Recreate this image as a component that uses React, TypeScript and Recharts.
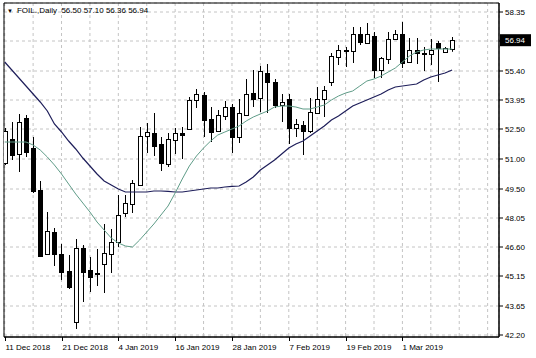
import { ComposedChart, Bar, Line, XAxis, YAxis, CartesianGrid, ReferenceLine, ReferenceArea } from 'recharts'

// daily bars, 11 Dec 2018 .. 12 Mar 2019
const dates = [
  '11 Dec 2018', '12 Dec 2018', '13 Dec 2018', '14 Dec 2018', '17 Dec 2018', '18 Dec 2018', '19 Dec 2018', '20 Dec 2018',
  '21 Dec 2018', '24 Dec 2018', '26 Dec 2018', '27 Dec 2018', '28 Dec 2018', '31 Dec 2018', '2 Jan 2019', '3 Jan 2019',
  '4 Jan 2019', '7 Jan 2019', '8 Jan 2019', '9 Jan 2019', '10 Jan 2019', '11 Jan 2019', '14 Jan 2019', '15 Jan 2019',
  '16 Jan 2019', '17 Jan 2019', '18 Jan 2019', '21 Jan 2019', '22 Jan 2019', '23 Jan 2019', '24 Jan 2019', '25 Jan 2019',
  '28 Jan 2019', '29 Jan 2019', '30 Jan 2019', '31 Jan 2019', '1 Feb 2019', '4 Feb 2019', '5 Feb 2019', '6 Feb 2019',
  '7 Feb 2019', '8 Feb 2019', '11 Feb 2019', '12 Feb 2019', '13 Feb 2019', '14 Feb 2019', '15 Feb 2019', '18 Feb 2019',
  '19 Feb 2019', '20 Feb 2019', '21 Feb 2019', '22 Feb 2019', '25 Feb 2019', '26 Feb 2019', '27 Feb 2019', '28 Feb 2019',
  '1 Mar 2019', '4 Mar 2019', '5 Mar 2019', '6 Mar 2019', '7 Mar 2019', '8 Mar 2019', '11 Mar 2019', '12 Mar 2019',
]

const opens = [
  50.8, 52.0, 51.25, 53.05, 51.55, 49.45, 46.25, 47.35, 46.25, 45.4, 42.85, 46.55, 45.45, 45.3, 45.75, 46.25,
  46.85, 48.3, 48.75, 49.7, 52.15, 52.3, 51.75, 50.75, 51.95, 52.3, 52.5, 53.95, 54.2, 53.0, 52.4, 53.15,
  53.6, 52.1, 53.2, 54.3, 54.05, 55.3, 54.85, 53.7, 54.0, 52.55, 52.7, 52.4, 53.3, 54.0, 54.85, 56.1,
  56.45, 56.4, 57.25, 56.8, 57.15, 55.45, 56.0, 57.0, 57.25, 55.85, 56.45, 56.3, 56.25, 56.8, 56.35, 56.5,
]
const highs = [
  52.55, 52.85, 53.25, 53.2, 52.1, 49.9, 48.35, 47.55, 46.75, 46.2, 47.0, 46.7, 46.1, 46.5, 47.75, 47.5,
  49.2, 49.2, 49.95, 52.6, 52.8, 53.3, 52.1, 52.3, 52.55, 52.6, 54.1, 54.5, 54.35, 53.6, 53.45, 53.9,
  53.75, 54.0, 55.0, 55.45, 55.65, 55.75, 55.0, 54.25, 54.25, 53.0, 52.9, 54.05, 54.6, 54.65, 56.3, 56.7,
  56.6, 57.6, 57.6, 57.8, 57.35, 56.1, 57.35, 57.45, 57.85, 57.05, 57.05, 56.6, 57.0, 56.9, 56.6, 57.1,
]
const lows = [
  50.7, 50.95, 50.35, 51.1, 49.3, 46.1, 46.2, 45.65, 44.95, 44.5, 42.5, 43.85, 44.35, 44.65, 44.3, 45.3,
  46.6, 48.1, 48.3, 49.65, 51.3, 51.15, 50.4, 50.6, 51.25, 51.0, 52.45, 53.55, 52.1, 51.85, 52.35, 52.95,
  51.3, 51.8, 53.2, 53.6, 53.35, 53.3, 53.55, 52.85, 51.75, 52.1, 51.2, 52.3, 53.3, 53.1, 54.65, 55.7,
  55.6, 55.8, 56.7, 56.8, 55.05, 55.05, 55.75, 56.95, 55.55, 55.8, 55.75, 55.4, 55.7, 54.85, 56.3, 56.36,
]
const closes = [
  52.4, 51.2, 52.85, 51.35, 49.4, 46.15, 47.4, 46.25, 45.35, 44.6, 46.55, 45.35, 45.1, 45.25, 46.3, 46.85,
  48.2, 48.8, 49.8, 52.15, 52.35, 51.65, 50.8, 52.0, 52.3, 52.2, 53.95, 54.25, 52.95, 52.35, 53.2, 53.6,
  52.1, 53.3, 54.25, 54.0, 55.4, 54.85, 53.7, 53.85, 52.55, 52.75, 52.4, 53.35, 54.0, 54.45, 56.15, 56.45,
  56.4, 57.25, 56.85, 57.25, 55.45, 56.05, 57.0, 57.25, 55.8, 56.45, 56.3, 56.25, 56.45, 56.55, 56.55, 56.94,
]

// moving averages as drawn (green = fast, navy = slow)
const fastMa = [
  51.85, 51.85, 51.85, 51.85, 51.7, 51.45, 51.1, 50.7, 50.25, 49.75, 49.25, 48.8, 48.35, 47.85, 47.45, 47.05,
  46.8, 46.65, 46.6, 46.95, 47.35, 47.75, 48.2, 48.65, 49.3, 50.0, 50.65, 51.15, 51.55, 51.9, 52.2, 52.35,
  52.5, 52.65, 52.9, 53.1, 53.25, 53.4, 53.6, 53.65, 53.65, 53.6, 53.5, 53.5, 53.6, 53.7, 53.95, 54.15,
  54.3, 54.4, 54.65, 54.9, 55.0, 55.15, 55.35, 55.55, 55.85, 56.15, 56.35, 56.45, 56.5, 56.5, 56.5, 56.5,
]
const slowMa = [
  55.85, 55.45, 55.05, 54.65, 54.25, 53.85, 53.4, 52.75, 52.35, 51.9, 51.5, 51.05, 50.65, 50.25, 49.9, 49.7,
  49.5, 49.35, 49.35, 49.35, 49.35, 49.4, 49.4, 49.38, 49.35, 49.35, 49.4, 49.45, 49.5, 49.55, 49.55, 49.6,
  49.63, 49.65, 49.85, 50.1, 50.45, 50.7, 50.95, 51.25, 51.55, 51.75, 51.9, 52.15, 52.4, 52.65, 52.95, 53.15,
  53.4, 53.65, 53.8, 53.95, 54.1, 54.25, 54.45, 54.6, 54.65, 54.7, 54.75, 54.95, 55.1, 55.2, 55.3, 55.45,
]

const priceTicks = [42.2, 43.65, 45.15, 46.6, 48.05, 49.5, 51.0, 52.5, 53.95, 55.4, 56.9, 58.35]
const gridBars = [0, 4, 8, 12, 16, 20, 24, 28, 32, 36, 40, 44, 48, 52, 56, 60, 64, 68]
const labelBars = [0, 8, 16, 24, 32, 40, 48, 56]
const lastPrice = 56.94
const title = 'FOIL.,Daily  56.50 57.10 56.36 56.94'

const data = dates.map((date, i) => ({
  i,
  date,
  open: opens[i],
  high: highs[i],
  low: lows[i],
  close: closes[i],
  fast: fastMa[i],
  slow: slowMa[i],
}))

const Candle = (props: any) => {
  const { x, y, width, height, payload } = props
  if (!payload || height == null) return null
  const { open, close, high, low } = payload
  const k = height / (high - low)
  const cx = Math.round(x + width / 2) + 0.5
  const top = y + (high - Math.max(open, close)) * k
  const bot = y + (high - Math.min(open, close)) * k
  const up = close >= open
  return (
    <g>
      <line x1={cx} x2={cx} y1={y} y2={y + height} stroke="#000" />
      <rect
        x={cx - 2}
        y={Math.round(top) + 0.5}
        width={4}
        height={Math.max(Math.round(bot - top), 1)}
        fill={up ? '#fff' : '#000'}
        stroke="#000"
      />
    </g>
  )
}

const DateTick = (props: any) => {
  const { x, y, payload } = props
  const v = payload.value
  if (!labelBars.includes(v)) return null
  const px = Math.round(x) + 0.5
  return (
    <g>
      <line x1={px} x2={px} y1={y} y2={y + 4} stroke="#000" />
      <text x={px} y={y + 13} fontSize={8} fill="#000" textAnchor="start">
        {dates[v]}
      </text>
    </g>
  )
}

const PriceTag = (props: any) => {
  const vb = props.viewBox
  if (!vb) return null
  const x0 = vb.x + vb.width + 1
  return (
    <g>
      <rect x={x0} y={vb.y - 6} width={31} height={12} fill="#000" />
      <text x={x0 + 5} y={vb.y + 3} fontSize={8} fill="#fff">
        {lastPrice.toFixed(2)}
      </text>
    </g>
  )
}

export default function App() {
  return (
    <div
      style={{
        position: 'absolute',
        left: 0,
        top: 0,
        width: 536,
        height: 358,
        background: '#fff',
        fontFamily: '"Liberation Sans", Arial, sans-serif',
      }}
    >
      <ComposedChart width={536} height={358} data={data} margin={{ top: 3, right: 0, bottom: 0, left: 4 }}>
        <CartesianGrid stroke="#c4c4c4" strokeDasharray="3 3" />
        <XAxis
          dataKey="i"
          type="number"
          domain={[-0.1, 69.6]}
          ticks={gridBars}
          interval={0}
          allowDataOverflow
          height={21}
          tickSize={0}
          tickMargin={0}
          tickLine={false}
          axisLine={{ stroke: '#000' }}
          tick={<DateTick />}
        />
        <YAxis
          orientation="right"
          type="number"
          domain={[42.1, 58.8]}
          ticks={priceTicks}
          interval={0}
          allowDataOverflow
          width={37}
          tickSize={4}
          tickMargin={2}
          axisLine={{ stroke: '#000' }}
          tickLine={{ stroke: '#000' }}
          tick={{ fontSize: 8, fill: '#000' }}
          tickFormatter={(v: number) => (v === 56.9 ? '' : v.toFixed(2))}
        />
        <Bar
          dataKey={(d: any) => [d.low, d.high]}
          barSize={5}
          shape={<Candle />}
          isAnimationActive={false}
        />
        <Line
          dataKey="slow"
          type="linear"
          stroke="#1e1e5a"
          strokeWidth={1.2}
          dot={false}
          activeDot={false}
          isAnimationActive={false}
        />
        <Line
          dataKey="fast"
          type="linear"
          stroke="#5f9c88"
          strokeWidth={1}
          dot={false}
          activeDot={false}
          isAnimationActive={false}
        />
        <ReferenceArea x1={-0.1} x2={69.6} y1={42.1} y2={58.8} fill="none" stroke="#000" ifOverflow="visible" />
        <ReferenceLine y={lastPrice} stroke="none" label={<PriceTag />} />
      </ComposedChart>
      <div
        style={{
          position: 'absolute',
          left: 7,
          top: 6,
          fontSize: 8,
          lineHeight: '10px',
          whiteSpace: 'pre',
          color: '#000',
          pointerEvents: 'none',
        }}
      >
        <span style={{ fontSize: 6, marginRight: 4 }}>▼</span>
        {title}
      </div>
    </div>
  )
}
